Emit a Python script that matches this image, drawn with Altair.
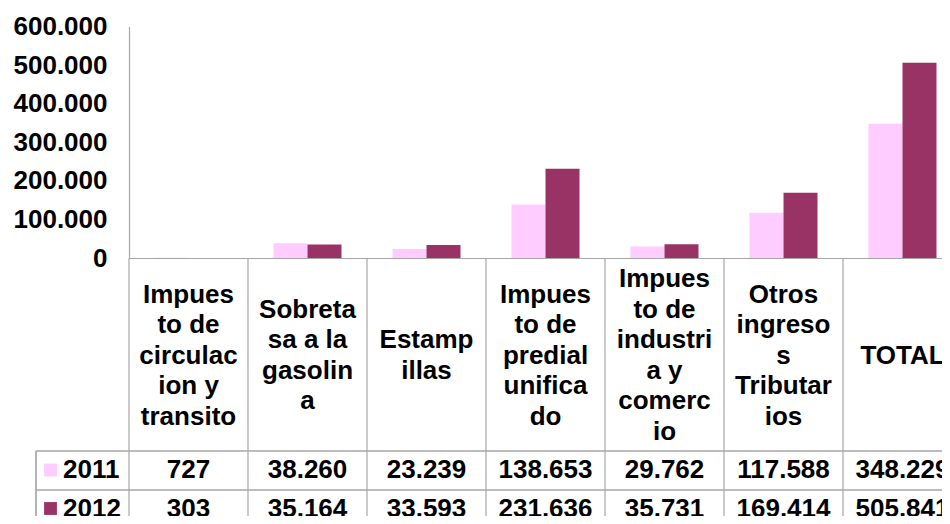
import altair as alt
import pandas as pd

categories = [
    "Impuesto de circulacion y transito",
    "Sobretasa a la gasolina",
    "Estampillas",
    "Impuesto de predial unificado",
    "Impuesto de industria y comercio",
    "Otros ingresos Tributarios",
    "TOTAL",
]
header_labels = [
    "Impues\nto de\ncirculac\nion  y\ntransito",
    "Sobreta\nsa a  la\ngasolin\na",
    "Estamp\nillas",
    "Impues\nto de\npredial\nunifica\ndo",
    "Impues\nto de\nindustri\na y\ncomerc\nio",
    "Otros\ningreso\ns\nTributar\nios",
    "TOTAL",
]
years = ["2011", "2012"]
values_2011 = [727, 38260, 23239, 138653, 29762, 117588, 348229]
values_2012 = [303, 35164, 33593, 231636, 35731, 169414, 505841]
y_ticks = [0, 100000, 200000, 300000, 400000, 500000, 600000]
colors = ["#FFCCFF", "#993366"]

FONT = "Liberation Sans"
FS = 26
LH = 30.5
GRID = "#A6A6A6"
HEADER_CENTER = 329

rows = []
for y, vals in zip(years, [values_2011, values_2012]):
    for c, v in zip(categories, vals):
        rows.append({"category": c, "year": y, "value": v,
                     "label": f"{v:,}".replace(",", ".")})
df = pd.DataFrame(rows)
df_head = pd.DataFrame({"category": categories, "header": header_labels,
                        "nlines": [h.count("\n") + 1 for h in header_labels]})
df_years = pd.DataFrame({"year": years})

x_axis = alt.Axis(labels=False, ticks=False, title=None, grid=False,
                  domainColor=GRID, domainWidth=1.2)
x_scale = alt.Scale(domain=categories, range=[0, 833], paddingInner=0, paddingOuter=0)
X = alt.X("category:N", sort=categories, scale=x_scale, axis=x_axis)
color = alt.Color("year:N", scale=alt.Scale(domain=years, range=colors), legend=None)

bars = alt.Chart(df).mark_bar().encode(
    x=X,
    xOffset=alt.XOffset("year:N", sort=years,
                        scale=alt.Scale(paddingOuter=0.75, paddingInner=0)),
    y=alt.Y("value:Q",
            scale=alt.Scale(domain=[0, 600000], nice=False, zero=True),
            axis=alt.Axis(values=y_ticks,
                          labelExpr="replace(format(datum.value, ','), ',', '.')",
                          labelFont=FONT, labelFontSize=FS, labelFontWeight="bold",
                          labelColor="black", labelPadding=22, ticks=False,
                          grid=False, domainColor=GRID, domainWidth=1.2, title=None)),
    color=color,
)

# table grid lines
vlines = alt.Chart(df_head).mark_rule(color=GRID, strokeWidth=1.2).encode(
    x=alt.X("category:N", sort=categories, scale=x_scale, axis=x_axis, bandPosition=0),
    y=alt.value(231.5), y2=alt.value(520),
)
hline1 = alt.Chart(df_years).mark_rule(color=GRID, strokeWidth=1.2).encode(
    x=alt.value(-93), x2=alt.value(833), y=alt.value(424.5))
hline2 = alt.Chart(df_years).mark_rule(color=GRID, strokeWidth=1.2).encode(
    x=alt.value(-93), x2=alt.value(833), y=alt.value(463.5))
leftline = alt.Chart(df_years).mark_rule(color=GRID, strokeWidth=1.2).encode(
    x=alt.value(-93), y=alt.value(424.5), y2=alt.value(520))

layers = [vlines, hline1, hline2, leftline, bars]

# header cells: multi-line text blocks, vertically centred in the header row
for n in sorted(set(df_head["nlines"])):
    layers.append(
        alt.Chart(df_head).transform_filter(alt.datum.nlines == int(n)).mark_text(
            font=FONT, fontSize=FS, fontWeight="bold", color="black",
            lineBreak="\n", lineHeight=LH, align="center", baseline="middle",
        ).encode(x=X, y=alt.value(HEADER_CENTER - (n - 1) / 2 * LH), text="header:N")
    )

row_y = {"2011": 443.5, "2012": 482}
for yr in years:
    layers.append(
        alt.Chart(df).transform_filter(alt.datum.year == yr).mark_text(
            font=FONT, fontSize=FS, fontWeight="bold", color="black",
            align="center", baseline="middle",
        ).encode(x=X, y=alt.value(row_y[yr]), text="label:N")
    )
    layers.append(
        alt.Chart(df_years).transform_filter(alt.datum.year == yr).mark_text(
            font=FONT, fontSize=FS, fontWeight="bold", color="black",
            align="left", baseline="middle",
        ).encode(x=alt.value(-66), y=alt.value(row_y[yr]), text="year:N")
    )
    layers.append(
        alt.Chart(df_years).transform_filter(alt.datum.year == yr).mark_square(
            size=165, opacity=1, filled=True,
        ).encode(x=alt.value(-78.5), y=alt.value(row_y[yr]), color=color)
    )

chart = alt.layer(*layers).properties(
    width=813,
    height=231.5,
    autosize=alt.AutoSizeParams(type="none"),
    padding={"left": 121, "top": 18.5, "right": 0, "bottom": 258},
).configure_view(stroke=None)

chart.save("out.html", embed_options={"renderer": "svg", "actions": False})
